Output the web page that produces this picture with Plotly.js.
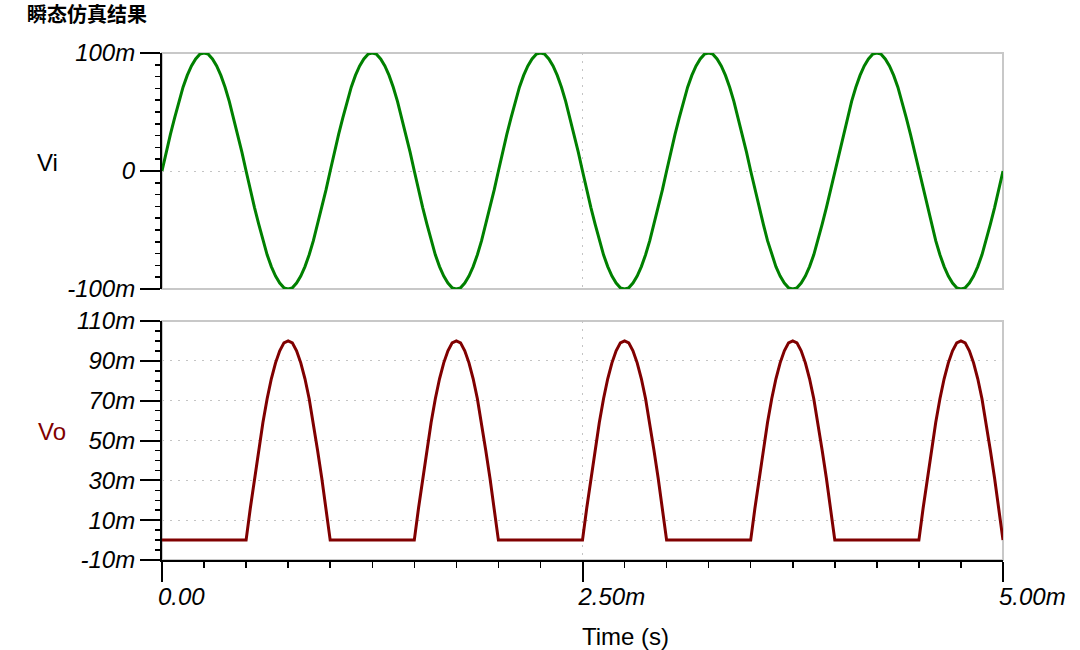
<!DOCTYPE html>
<html>
<head>
<meta charset="utf-8">
<script src="https://cdn.plot.ly/plotly-3.0.1.min.js"></script>
<style>
  html, body { margin: 0; padding: 0; background: #fff; }
  #chart { width: 1080px; height: 650px; }
</style>
</head>
<body>
<div id="chart"></div>
<script>
// time base: samples every 0.025 ms from 0 to 5 ms
const timeStart = 0;
const timeStep = 0.025;

// input voltage Vi (mV)
const viValues = [
  0, 16, 31, 45, 59, 71, 81, 89, 95, 99, 100, 99, 95, 89, 81, 71, 59, 45, 31, 16,
  0, -16, -31, -45, -59, -71, -81, -89, -95, -99, -100, -99, -95, -89, -81, -71, -59, -45, -31, -16,
  0, 16, 31, 45, 59, 71, 81, 89, 95, 99, 100, 99, 95, 89, 81, 71, 59, 45, 31, 16,
  0, -16, -31, -45, -59, -71, -81, -89, -95, -99, -100, -99, -95, -89, -81, -71, -59, -45, -31, -16,
  0, 16, 31, 45, 59, 71, 81, 89, 95, 99, 100, 99, 95, 89, 81, 71, 59, 45, 31, 16,
  0, -16, -31, -45, -59, -71, -81, -89, -95, -99, -100, -99, -95, -89, -81, -71, -59, -45, -31, -16,
  0, 16, 31, 45, 59, 71, 81, 89, 95, 99, 100, 99, 95, 89, 81, 71, 59, 45, 31, 16,
  0, -16, -31, -45, -59, -71, -81, -89, -95, -99, -100, -99, -95, -89, -81, -71, -59, -45, -31, -16,
  0, 16, 31, 45, 59, 71, 81, 89, 95, 99, 100, 99, 95, 89, 81, 71, 59, 45, 31, 16,
  0, -16, -31, -45, -59, -71, -81, -89, -95, -99, -100, -99, -95, -89, -81, -71, -59, -45, -31, -16,
  0
];

// output voltage Vo (mV)
const voValues = [
  0, 0, 0, 0, 0, 0, 0, 0, 0, 0, 0, 0, 0, 0, 0, 0, 0, 0, 0, 0,
  0, 16, 31, 45, 59, 71, 81, 89, 95, 99, 100, 99, 95, 89, 81, 71, 59, 45, 31, 16,
  0, 0, 0, 0, 0, 0, 0, 0, 0, 0, 0, 0, 0, 0, 0, 0, 0, 0, 0, 0,
  0, 16, 31, 45, 59, 71, 81, 89, 95, 99, 100, 99, 95, 89, 81, 71, 59, 45, 31, 16,
  0, 0, 0, 0, 0, 0, 0, 0, 0, 0, 0, 0, 0, 0, 0, 0, 0, 0, 0, 0,
  0, 16, 31, 45, 59, 71, 81, 89, 95, 99, 100, 99, 95, 89, 81, 71, 59, 45, 31, 16,
  0, 0, 0, 0, 0, 0, 0, 0, 0, 0, 0, 0, 0, 0, 0, 0, 0, 0, 0, 0,
  0, 16, 31, 45, 59, 71, 81, 89, 95, 99, 100, 99, 95, 89, 81, 71, 59, 45, 31, 16,
  0, 0, 0, 0, 0, 0, 0, 0, 0, 0, 0, 0, 0, 0, 0, 0, 0, 0, 0, 0,
  0, 16, 31, 45, 59, 71, 81, 89, 95, 99, 100, 99, 95, 89, 81, 71, 59, 45, 31, 16,
  0
];

// tick labels
const timeTicks = [0, 2.5, 5];
const timeTickText = ['0.00', '2.50m', '5.00m'];
const viTicks = [-100, 0, 100];
const viTickText = ['-100m', '0', '100m'];
const voTicks = [-10, 10, 30, 50, 70, 90, 110];
const voTickText = ['-10m', '10m', '30m', '50m', '70m', '90m', '110m'];

const tickFont = {family: 'Liberation Sans, Arial, sans-serif', size: 24, color: '#000', style: 'italic'};
const labelFont = {family: 'Liberation Sans, Arial, sans-serif', size: 24, color: '#000'};
const frameColor = '#c8c8c8';
const gridColor = '#c4c4c4';
const gridDash = '2px,6px';

const traces = [
  {
    type: 'scatter', mode: 'lines', name: 'Vi',
    x0: timeStart, dx: timeStep, y: viValues,
    xaxis: 'x', yaxis: 'y',
    line: {color: '#008000', width: 3}
  },
  {
    type: 'scatter', mode: 'lines', name: 'Vo',
    x0: timeStart, dx: timeStep, y: voValues,
    xaxis: 'x2', yaxis: 'y2',
    line: {color: '#800000', width: 3}
  }
];

const frame = (xr, yr) => ({
  type: 'rect', xref: xr + ' domain', yref: yr + ' domain',
  x0: 0, x1: 1, y0: 0, y1: 1,
  line: {color: frameColor, width: 2}, layer: 'below'
});

const layout = {
  width: 1080, height: 650,
  margin: {l: 162, r: 77, t: 53, b: 90},
  paper_bgcolor: '#fff', plot_bgcolor: '#fff',
  showlegend: false,
  title: {
    text: '<b>瞬态仿真结果</b>',
    font: {family: 'Noto Sans CJK SC, sans-serif', size: 20, color: '#000'},
    xref: 'container', yref: 'container',
    x: 0.025, xanchor: 'left', y: 1 - 15 / 650, yanchor: 'middle'
  },
  xaxis: {
    domain: [0, 1], anchor: 'y', range: [0, 5],
    tickmode: 'array', tickvals: timeTicks, showticklabels: false, ticks: '',
    showgrid: true, gridcolor: gridColor, griddash: gridDash, gridwidth: 1,
    showline: false, zeroline: false
  },
  yaxis: {
    domain: [0.5345, 1], anchor: 'x', range: [-100, 100],
    tickmode: 'array', tickvals: viTicks, ticktext: viTickText,
    ticks: 'outside', ticklen: 20, tickwidth: 2, tickcolor: '#000',
    minor: {tickmode: 'linear', tick0: 0, dtick: 10, ticks: 'outside', ticklen: 5, tickwidth: 1.5, tickcolor: '#000', showgrid: false},
    tickfont: tickFont,
    showgrid: true, gridcolor: gridColor, griddash: gridDash, gridwidth: 1,
    showline: true, linecolor: '#000', linewidth: 2, zeroline: false
  },
  xaxis2: {
    domain: [0, 1], anchor: 'y2', range: [0, 5],
    tickmode: 'array', tickvals: timeTicks, ticktext: timeTickText,
    ticklabelposition: 'outside right', ticklabelstandoff: 14, ticklabelshift: -6,
    ticks: 'outside', ticklen: 20, tickwidth: 2, tickcolor: '#000',
    minor: {tickmode: 'linear', tick0: 0, dtick: 0.25, ticks: 'outside', ticklen: 6, tickwidth: 1.5, tickcolor: '#000', showgrid: false},
    tickfont: tickFont,
    showgrid: true, gridcolor: gridColor, griddash: gridDash, gridwidth: 1,
    showline: true, linecolor: '#000', linewidth: 2, zeroline: false
  },
  yaxis2: {
    domain: [0, 0.4714], anchor: 'x2', range: [-10, 110],
    tickmode: 'array', tickvals: voTicks, ticktext: voTickText,
    ticks: 'outside', ticklen: 20, tickwidth: 2, tickcolor: '#000',
    minor: {tickmode: 'linear', tick0: 0, dtick: 5, ticks: 'outside', ticklen: 5, tickwidth: 1.5, tickcolor: '#000', showgrid: false},
    tickfont: tickFont,
    showgrid: true, gridcolor: gridColor, griddash: gridDash, gridwidth: 1,
    showline: true, linecolor: '#000', linewidth: 2, zeroline: false
  },
  shapes: [frame('x', 'y'), frame('x2', 'y2')],
  annotations: [
    {text: 'Vi', xref: 'paper', yref: 'paper', x: -0.1367, y: 0.785,
     xanchor: 'center', yanchor: 'middle', showarrow: false, font: labelFont},
    {text: 'Vo', xref: 'paper', yref: 'paper', x: -0.1308, y: 0.2525,
     xanchor: 'center', yanchor: 'middle', showarrow: false,
     font: Object.assign({}, labelFont, {color: '#800000'})},
    {text: 'Time (s)', xref: 'x2', yref: 'paper', x: 2.5, y: -0.15,
     xanchor: 'left', yanchor: 'middle', xshift: -3, showarrow: false, font: labelFont}
  ]
};

Plotly.newPlot('chart', traces, layout, {staticPlot: true, displayModeBar: false});
</script>
</body>
</html>
